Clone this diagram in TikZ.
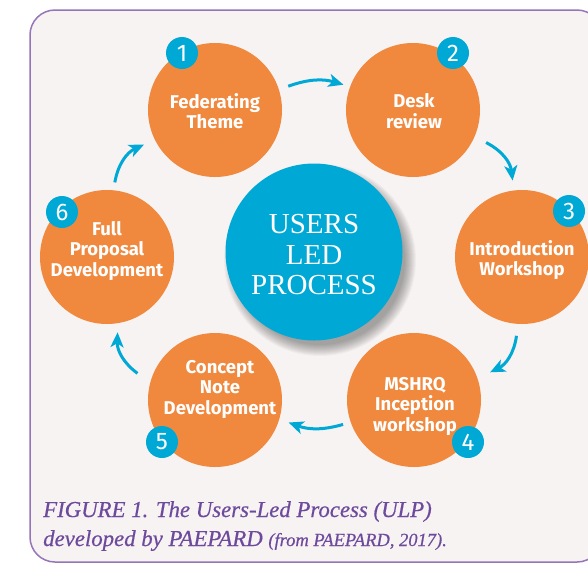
\documentclass[tikz,border=0pt]{standalone}
\usepackage{fontspec}
\setmainfont{Liberation Serif}
\newfontfamily\lblfont{Fira Sans}
\newfontfamily\capfont{Liberation Serif}[ItalicFeatures={FakeBold=0.5}]
\usetikzlibrary{arrows.meta,calc}
\definecolor{ulporange}{HTML}{F0883D}
\definecolor{ulpblue}{HTML}{00A9D5}
\definecolor{framefill}{HTML}{F7F3F3}
\definecolor{framepurple}{HTML}{9575B8}
\definecolor{captionpurple}{HTML}{6D4A9C}
\begin{document}
\begin{tikzpicture}[x=1pt,y=-1pt,
  stage/.style={circle, fill=ulporange, minimum size=134pt, inner sep=0pt},
  stagetext/.style={text=white, align=center, inner sep=0pt,
    font=\lblfont\bfseries\fontsize{18.5}{20.5}\selectfont},
  badge/.style={circle, fill=ulpblue, minimum size=32pt, inner sep=0pt,
    text=white, font=\lblfont\fontsize{24}{24}\selectfont},
  hubstyle/.style={circle, fill=ulpblue, minimum size=177pt, inner sep=0pt},
  hubtext/.style={text=white, align=center, inner sep=0pt,
    font=\fontsize{29}{30.5}\selectfont},
  flow/.style={draw=ulpblue, line width=3pt,
    -{Stealth[length=15pt,width=13pt,inset=4pt]}},
  captext/.style={anchor=base west, inner sep=0pt, text=captionpurple,
    font=\capfont\itshape\fontsize{22.8}{26}\selectfont},
]
\useasboundingbox (0,0) rectangle (588,563);

% panel
\draw[draw=framepurple, fill=framefill, line width=1.5pt, rounded corners=25pt]
  (30,10) rectangle (602,562);

% central circle with its soft shadow
\coordinate (hubc) at (314,252);
\foreach \k in {0,...,11}
  \fill[black, opacity=0.03] ($(hubc)+(6,8)$) circle ({96-\k});
\node[hubstyle] (hub) at (hubc) {};
\node[hubtext] (hubt) at ($(hub)+(0,3)$) {USERS\\LED\\PROCESS};

% the six stages
\node[stage] (c1) at (215,110) {};
\node[stage] (c2) at (413,110) {};
\node[stage] (c3) at (522,257) {};
\node[stage] (c4) at (414,400) {};
\node[stage] (c5) at (215,400) {};
\node[stage] (c6) at (107,257) {};

\node[stagetext] (t1) at ($(c1)+(0,1)$) {Federating\\Theme};
\node[stagetext] (t2) at ($(c2)+(1,1)$) {Desk\\review};
\node[stagetext] (t3) at ($(c3)+(0,3)$) {Introduction\\Workshop};
\node[stagetext] (t4) at ($(c4)+(1,6)$) {MSHRQ\\Inception\\workshop};
\node[stagetext] (t5) at ($(c5)+(5,-11)$) {Concept\\Note\\Development};
\node[stagetext] (t6) at ($(c6)+(0,-6)$) {Full\\Proposal\\Development};

% step numbers
\node[badge] (b1) at (182,53) {1};
\node[badge] (b2) at (453,53) {2};
\node[badge] (b3) at (569,211) {3};
\node[badge] (b4) at (468,442) {4};
\node[badge] (b5) at (162,442) {5};
\node[badge] (b6) at (62,212) {6};

% arrows around the cycle
\draw[flow] ($(c1)+(-18:77)$) to[bend left=18] ($(c2)+(-160:74)$);
\draw[flow] ($(c2)+(24:80)$) to[bend left=28] ($(c3)+(-97:77)$);
\draw[flow] ($(c3)+(94:79)$) to[bend left=28] ($(c4)+(-20:81)$);
\draw[flow] ($(c4)+(161:75)$) to[bend left=18] ($(c5)+(17:77)$);
\draw[flow] ($(c5)+(199:82)$) to[bend left=28] ($(c6)+(82:76)$);
\draw[flow] ($(c6)+(-84:75)$) to[bend left=28] ($(c1)+(154:79)$);

% caption
\node[captext] (cap1) at (43,517) {FIGURE 1. The Users-Led Process (ULP)};
\node[captext] (cap2) at (43,546)
  {developed by PAEPARD {\fontsize{18.5}{20}\selectfont(from PAEPARD, 2017).}};
\end{tikzpicture}
\end{document}
